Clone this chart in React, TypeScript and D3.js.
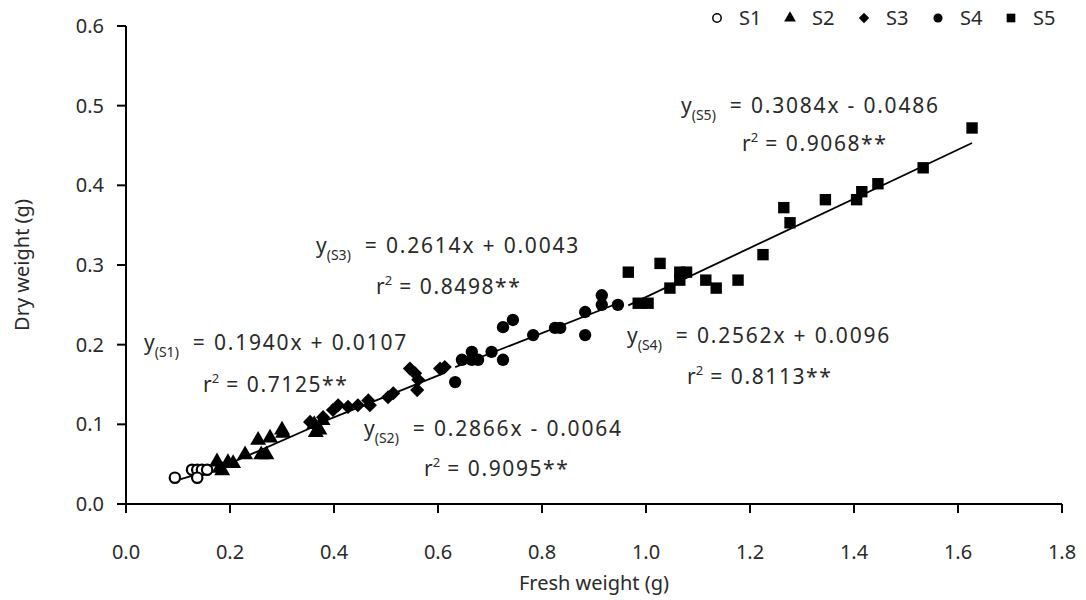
import React from 'react';
import * as d3 from 'd3';

// fresh weight (g), dry weight (g)
const s1 = [[0.094, 0.033], [0.127, 0.043], [0.137, 0.043], [0.146, 0.043], [0.156, 0.043], [0.137, 0.033]];
const s2 = [
  [0.175, 0.053], [0.18, 0.045], [0.185, 0.042], [0.196, 0.052], [0.206, 0.051], [0.229, 0.062],
  [0.254, 0.08], [0.26, 0.062], [0.27, 0.062], [0.277, 0.083], [0.3, 0.093], [0.302, 0.089],
  [0.362, 0.1], [0.365, 0.09], [0.372, 0.093], [0.378, 0.105],
];
const s3 = [
  [0.354, 0.103], [0.379, 0.109], [0.398, 0.118], [0.408, 0.124], [0.427, 0.122], [0.446, 0.124],
  [0.466, 0.13], [0.469, 0.124], [0.504, 0.134], [0.514, 0.139], [0.546, 0.17], [0.556, 0.164],
  [0.562, 0.156], [0.56, 0.143], [0.604, 0.17], [0.613, 0.172],
];
const s4 = [
  [0.633, 0.153], [0.646, 0.181], [0.665, 0.191], [0.665, 0.181], [0.677, 0.181], [0.703, 0.191],
  [0.725, 0.181], [0.725, 0.222], [0.744, 0.231], [0.783, 0.212], [0.825, 0.221], [0.835, 0.221],
  [0.883, 0.241], [0.883, 0.212], [0.915, 0.25], [0.915, 0.262], [0.946, 0.25],
];
const s5 = [
  [0.966, 0.291], [0.985, 0.252], [1.004, 0.252], [1.027, 0.302], [1.046, 0.271], [1.065, 0.291],
  [1.065, 0.281], [1.078, 0.291], [1.115, 0.281], [1.135, 0.271], [1.177, 0.281], [1.225, 0.313],
  [1.265, 0.372], [1.277, 0.353], [1.345, 0.382], [1.405, 0.382], [1.415, 0.392], [1.446, 0.402],
  [1.533, 0.422], [1.627, 0.472],
];

const seriesNames = ['S1', 'S2', 'S3', 'S4', 'S5'];
const slopes = [0.194, 0.2866, 0.2614, 0.2562, 0.3084];
const intercepts = [0.0107, -0.0064, 0.0043, 0.0096, -0.0486];
const eqTexts = ['0.1940x + 0.0107', '0.2866x - 0.0064', '0.2614x + 0.0043', '0.2562x + 0.0096', '0.3084x - 0.0486'];
const r2Texts = ['0.7125**', '0.9095**', '0.8498**', '0.8113**', '0.9068**'];

const xTicks = [0, 0.2, 0.4, 0.6, 0.8, 1.0, 1.2, 1.4, 1.6, 1.8];
const yTicks = [0, 0.1, 0.2, 0.3, 0.4, 0.5, 0.6];

// label anchor points (px) for each equation block
const eqPos = [
  { x: 144, y: 350, rx: 203, ry: 392 },
  { x: 364, y: 436, rx: 424, ry: 476 },
  { x: 316, y: 253, rx: 376, ry: 294 },
  { x: 627, y: 343, rx: 687, ry: 384 },
  { x: 681, y: 113, rx: 742, ry: 151 },
];

const FONT = '"Noto Sans", sans-serif';
const INK = '#2a2a2a';

export default function App() {
  const allData = [s1, s2, s3, s4, s5];
  const x = d3.scaleLinear().domain([0, 1.8]).range([126, 1062]);
  const y = d3.scaleLinear().domain([0, 0.6]).range([504, 26]);

  const shapes = [
    { type: d3.symbolCircle, size: 85, fill: 'white', stroke: 'black', sw: 2.2, rot: 0 },
    { type: d3.symbolTriangle, size: 110, fill: 'black', stroke: 'none', sw: 0, rot: 0 },
    { type: d3.symbolSquare, size: 100, fill: 'black', stroke: 'none', sw: 0, rot: 45 },
    { type: d3.symbolCircle, size: 120, fill: 'black', stroke: 'none', sw: 0, rot: 0 },
    { type: d3.symbolSquare, size: 130, fill: 'black', stroke: 'none', sw: 0, rot: 0 },
  ];
  const legendShapes = [
    { type: d3.symbolCircle, size: 55 },
    { type: d3.symbolTriangle, size: 60 },
    { type: d3.symbolSquare, size: 55 },
    { type: d3.symbolCircle, size: 65 },
    { type: d3.symbolSquare, size: 75 },
  ];
  const legendX = [717, 790, 864, 938, 1011];

  const line = d3.line<number[]>().x((v) => x(v[0])).y((v) => y(v[1]));

  return (
    <div style={{ position: 'absolute', left: 0, top: 0 }}>
      <svg width={1086} height={600} style={{ display: 'block', background: 'white' }} fontFamily={FONT}>
        {/* trend lines */}
        {allData.map((d, i) => {
          const ext = d3.extent(d, (p) => p[0]) as [number, number];
          const pts = ext.map((v) => [v, slopes[i] * v + intercepts[i]]);
          return <path key={'l' + i} d={line(pts) || ''} stroke="black" strokeWidth={1.8} fill="none" />;
        })}

        {/* points */}
        {allData.map((d, i) => {
          const sh = shapes[i];
          const p = d3.symbol().type(sh.type).size(sh.size)() || '';
          return (
            <g key={'s' + i}>
              {d.map((v, j) => (
                <path
                  key={j}
                  d={p}
                  transform={`translate(${x(v[0])},${y(v[1])}) rotate(${sh.rot})`}
                  fill={sh.fill}
                  stroke={sh.stroke}
                  strokeWidth={sh.sw}
                />
              ))}
            </g>
          );
        })}

        {/* axes */}
        <line x1={x(0)} x2={x(1.8)} y1={y(0)} y2={y(0)} stroke="black" strokeWidth={2} />
        <line x1={x(0)} x2={x(0)} y1={y(0)} y2={y(0.6)} stroke="black" strokeWidth={2} />
        {xTicks.map((t) => (
          <g key={'xt' + t}>
            <line x1={x(t)} x2={x(t)} y1={y(0)} y2={y(0) + 9} stroke="black" strokeWidth={2} />
            <text x={x(t)} y={559} textAnchor="middle" fontSize={20} fill={INK}>
              {t.toFixed(1)}
            </text>
          </g>
        ))}
        {yTicks.map((t) => (
          <g key={'yt' + t}>
            <line x1={x(0) - 9} x2={x(0)} y1={y(t)} y2={y(t)} stroke="black" strokeWidth={2} />
            <text x={104} y={y(t) + 7} textAnchor="end" fontSize={20} fill={INK}>
              {t.toFixed(1)}
            </text>
          </g>
        ))}
        <text x={594} y={590} textAnchor="middle" fontSize={20} fill={INK}>
          Fresh weight (g)
        </text>
        <text transform="translate(29,265) rotate(-90)" textAnchor="middle" fontSize={20} fill={INK}>
          Dry weight (g)
        </text>

        {/* equations */}
        {seriesNames.map((n, i) => {
          const p = eqPos[i];
          return (
            <g key={'eq' + i} fill={INK}>
              <text x={p.x} y={p.y} fontSize={21}>
                y
                <tspan fontSize={14} dy={7}>
                  ({n})
                </tspan>
                <tspan dy={-7} dx={14} letterSpacing={1.8}>
                  = {eqTexts[i]}
                </tspan>
              </text>
              <text x={p.rx} y={p.ry} fontSize={21}>
                r
                <tspan fontSize={13} dy={-9}>
                  2
                </tspan>
                <tspan dy={9} dx={7} letterSpacing={1.6}>
                  = {r2Texts[i]}
                </tspan>
              </text>
            </g>
          );
        })}

        {/* legend */}
        {seriesNames.map((n, i) => {
          const ls = legendShapes[i];
          const p = d3.symbol().type(ls.type).size(ls.size)() || '';
          const rot = i === 2 ? 45 : 0;
          return (
            <g key={'lg' + i}>
              <path
                d={p}
                transform={`translate(${legendX[i]},18) rotate(${rot})`}
                fill={i === 0 ? 'white' : 'black'}
                stroke={i === 0 ? 'black' : 'none'}
                strokeWidth={1.5}
              />
              <text x={legendX[i] + 22} y={25} fontSize={20} fill={INK}>
                {n}
              </text>
            </g>
          );
        })}
      </svg>
    </div>
  );
}
